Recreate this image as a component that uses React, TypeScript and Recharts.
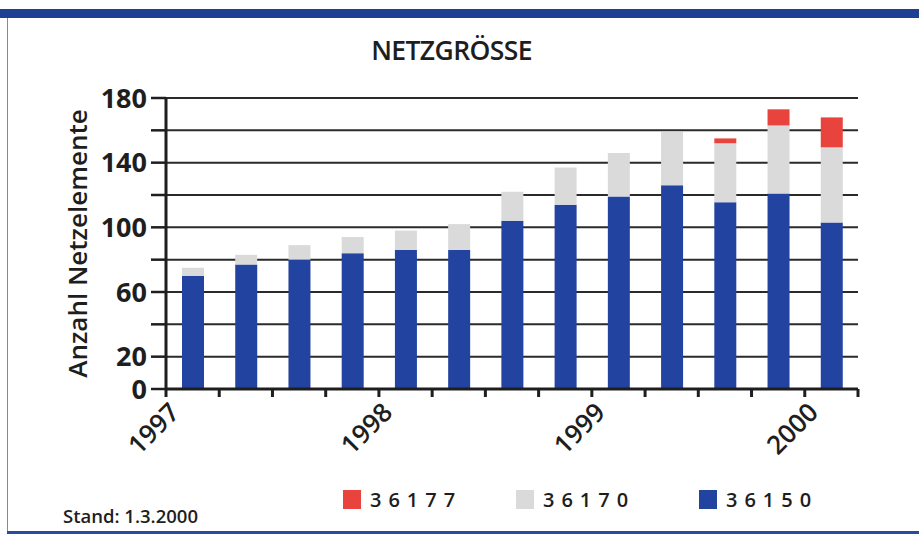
import React from 'react';
import { BarChart, Bar, XAxis, YAxis, CartesianGrid } from 'recharts';

// quarterly values, 1997 Q1 .. 2000 Q1
const quarters = [
  '1997-1', '1997-2', '1997-3', '1997-4',
  '1998-1', '1998-2', '1998-3', '1998-4',
  '1999-1', '1999-2', '1999-3', '1999-4',
  '2000-1'
];
const netz36150 = [70, 77, 80, 84, 86, 86, 104, 114, 119, 126, 115.5, 121, 103];
const netz36170 = [5, 6, 9, 10, 12, 16, 18, 23, 27, 33, 36.5, 42, 46.5];
const netz36177 = [0, 0, 0, 0, 0, 0, 0, 0, 0, 0, 3, 10, 18.5];
const yearLabels = ['1997', '1998', '1999', '2000'];
const yTicks = [0, 20, 40, 60, 80, 100, 120, 140, 160, 180];
const yLabelled = [0, 20, 60, 100, 140, 180];

const BLUE = '#2243a0';
const GREY = '#dadada';
const RED = '#e8443d';
const INK = '#1e1e1e';
const FONT = "'Open Sans', 'Noto Sans', sans-serif";

const data = quarters.map((q, i) => ({
  q,
  pos: i + 0.5,
  s36150: netz36150[i],
  s36170: netz36170[i],
  s36177: netz36177[i],
}));
const xTicks = [...quarters.map((_, i) => i), quarters.length];

const YearTick = ({ x, y, payload }: any) => {
  const v = payload.value;
  if (v % 4 !== 0) return null;
  const label = yearLabels[v / 4];
  return (
    <text
      x={x + 15}
      y={y + 15}
      transform={`rotate(-45, ${x + 15}, ${y + 15})`}
      textAnchor="end"
      fontFamily={FONT}
      fontSize={26}
      fontWeight={600}
      fill={INK}
    >
      {label}
    </text>
  );
};

const legendItems = [
  { name: '36177', color: RED, left: 343 },
  { name: '36170', color: GREY, left: 516 },
  { name: '36150', color: BLUE, left: 699 },
];

const LegendBox = () => (
  <div style={{ position: 'absolute', left: 0, top: 490, width: 919, height: 30 }}>
    {legendItems.map((it) => (
      <div
        key={it.name}
        style={{ position: 'absolute', left: it.left, top: 0, display: 'flex', alignItems: 'center' }}
      >
        <div style={{ width: 18, height: 19, background: it.color }} />
        <span
          style={{
            marginLeft: 9,
            fontFamily: FONT,
            fontSize: 20,
            fontWeight: 600,
            letterSpacing: 7,
            color: INK,
            lineHeight: '19px',
          }}
        >
          {it.name}
        </span>
      </div>
    ))}
  </div>
);

export default function App() {
  return (
    <div style={{ position: 'absolute', top: 0, left: 0, width: 919, height: 535, background: '#fff', overflow: 'hidden' }}>
      {/* frame */}
      <div style={{ position: 'absolute', left: 0, top: 9, width: 919, height: 9, background: '#1f3f95' }} />
      <div style={{ position: 'absolute', left: 7, top: 18, width: 1, height: 514, background: '#8a8a8a' }} />
      <div style={{ position: 'absolute', left: 7, top: 531, width: 912, height: 3, background: '#2a4a9a' }} />

      <div
        style={{
          position: 'absolute', left: -8, top: 32, width: 919, textAlign: 'center',
          fontFamily: FONT, fontSize: 26.5, fontWeight: 600, color: INK, letterSpacing: -0.6,
        }}
      >
        NETZGRÖSSE
      </div>

      <div
        style={{
          position: 'absolute', left: 63, top: 503,
          fontFamily: FONT, fontSize: 18.5, fontWeight: 600, color: INK,
        }}
      >
        Stand: 1.3.2000
      </div>

      <LegendBox />

      <div style={{ position: 'absolute', left: 0, top: 0 }}>
        <BarChart
          width={919}
          height={535}
          data={data}
          margin={{ top: 98, right: 61, bottom: 96, left: 106 }}
        >
          <CartesianGrid horizontal vertical={false} stroke="#2a2a2a" strokeWidth={2} />
          <XAxis
            type="number"
            dataKey="pos"
            domain={[0, quarters.length]}
            ticks={xTicks}
            interval={0}
            height={50}
            axisLine={{ stroke: INK, strokeWidth: 3 }}
            tickLine={{ stroke: INK, strokeWidth: 3 }}
            tickSize={8}
            tick={<YearTick />}
          />
          <YAxis
            type="number"
            domain={[0, 180]}
            ticks={yTicks}
            interval={0}
            width={60}
            axisLine={{ stroke: INK, strokeWidth: 3 }}
            tickLine={{ stroke: INK, strokeWidth: 2.5 }}
            tickSize={15}
            tickMargin={4}
            tickFormatter={(v: number) => (yLabelled.includes(v) ? String(v) : '')}
            tick={{ fill: INK, fontFamily: FONT, fontSize: 27, fontWeight: 700 }}
            label={{
              value: 'Anzahl Netzelemente',
              angle: -90,
              position: 'insideLeft',
              offset: -28,
              style: { textAnchor: 'middle', fill: INK, fontFamily: FONT, fontSize: 26, fontWeight: 600 },
            }}
          />
          <Bar dataKey="s36150" name="36150" stackId="a" fill={BLUE} barSize={22} isAnimationActive={false} />
          <Bar dataKey="s36170" name="36170" stackId="a" fill={GREY} barSize={22} isAnimationActive={false} />
          <Bar dataKey="s36177" name="36177" stackId="a" fill={RED} barSize={22} isAnimationActive={false} />
        </BarChart>
      </div>
    </div>
  );
}
